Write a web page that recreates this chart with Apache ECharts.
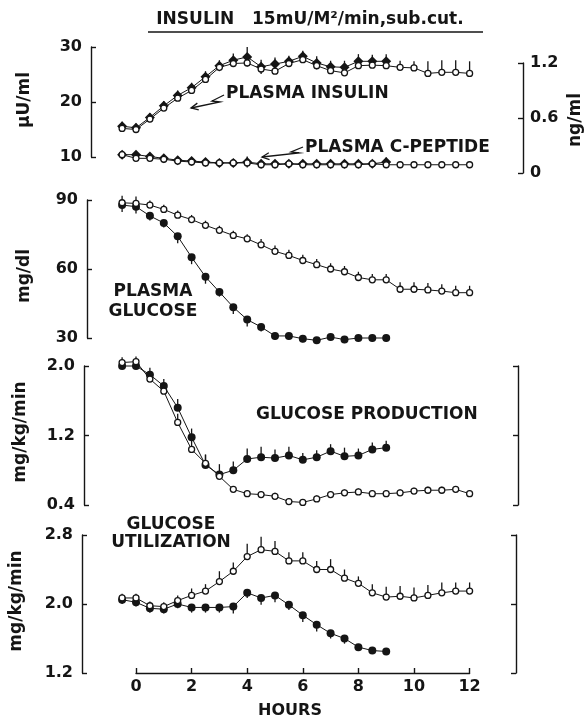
<!DOCTYPE html>
<html>
<head>
<meta charset="utf-8">
<script src="https://cdn.jsdelivr.net/npm/echarts@6/dist/echarts.min.js"></script>
<style>
  html, body { margin: 0; background: #fff; }
  #chart { width: 588px; height: 719px; }
</style>
</head>
<body>
<div id="chart"></div>
<script>
// hours after start of the sub.cut. insulin infusion
const hours = [-0.5, 0, 0.5, 1, 1.5, 2, 2.5, 3, 3.5, 4, 4.5, 5, 5.5, 6, 6.5, 7, 7.5, 8, 8.5, 9, 9.5, 10, 10.5, 11, 11.5, 12]
const hoursShort = [-0.5, 0, 0.5, 1, 1.5, 2, 2.5, 3, 3.5, 4, 4.5, 5, 5.5, 6, 6.5, 7, 7.5, 8, 8.5, 9]
const hourTicks = [0, 2, 4, 6, 8, 10, 12]

// plasma insulin, uU/ml (filled = to 9 h, open = to 12 h)
const insulinFilled = [15.6, 15.3, 17.2, 19.3, 21.2, 22.6, 24.6, 26.6, 27.6, 28.2, 26.4, 26.9, 27.4, 28.3, 27.1, 26.4, 26.3, 27.4, 27.4, 27.4]
const insulinOpen = [15.2, 15.0, 16.9, 18.9, 20.7, 22.1, 24.1, 26.3, 27.0, 27.1, 26.0, 25.6, 27.0, 27.7, 26.6, 25.7, 25.3, 26.6, 26.7, 26.6, 26.3, 26.2, 25.2, 25.4, 25.4, 25.2]
const insulinFilledErr = [0.8, 0.8, 0.8, 0.9, 0.9, 0.9, 1.0, 1.0, 1.2, 1.8, 1.3, 1.2, 1.0, 1.0, 1.2, 1.1, 1.2, 1.3, 1.2, 1.3]
const insulinOpenErr = [0.8, 0.8, 0.8, 0.8, 0.8, 0.9, 0.9, 1.0, 1.0, 1.2, 1.2, 1.2, 1.0, 1.0, 1.2, 1.2, 1.3, 1.2, 1.2, 1.2, 1.2, 1.2, 2.2, 2.2, 2.2, 2.2]

// plasma C-peptide, ng/ml
const cpepFilled = [0.20, 0.20, 0.18, 0.16, 0.14, 0.13, 0.12, 0.11, 0.11, 0.12, 0.10, 0.10, 0.10, 0.10, 0.10, 0.10, 0.10, 0.10, 0.10, 0.12]
const cpepOpen = [0.20, 0.16, 0.16, 0.15, 0.13, 0.12, 0.11, 0.11, 0.11, 0.11, 0.09, 0.09, 0.10, 0.09, 0.09, 0.09, 0.09, 0.09, 0.10, 0.09, 0.09, 0.09, 0.09, 0.09, 0.09, 0.09]
const cpepFilledErr = [0.04, 0.04, 0.04, 0.04, 0.04, 0.04, 0.04, 0.04, 0.04, 0.06, 0.04, 0.04, 0.04, 0.04, 0.04, 0.04, 0.04, 0.04, 0.04, 0.05]
const cpepOpenErr = [0.04, 0.04, 0.03, 0.03, 0.03, 0.03, 0.03, 0.03, 0.03, 0.03, 0.03, 0.03, 0.03, 0.03, 0.03, 0.03, 0.03, 0.03, 0.03, 0.03, 0.03, 0.03, 0.03, 0.03, 0.03, 0.03]

// plasma glucose, mg/dl
const glucoseFilled = [87.8, 87.1, 83.1, 80.0, 74.2, 65.1, 56.6, 50.0, 43.4, 38.0, 34.8, 30.9, 30.9, 29.7, 29.0, 30.4, 29.3, 30.0, 30.0, 30.0]
const glucoseOpen = [88.8, 88.5, 87.8, 85.9, 83.4, 81.5, 79.0, 76.8, 74.6, 73.1, 70.5, 67.7, 65.9, 63.7, 61.9, 60.0, 58.8, 56.3, 55.3, 55.3, 51.2, 51.2, 50.9, 50.4, 49.7, 49.7]
const glucoseFilledErr = [3, 3, 2, 2, 3, 3, 3, 2, 3, 3, 2, 1.5, 1.5, 1.5, 1.5, 1.5, 1.5, 1.5, 1.5, 1.5]
const glucoseOpenErr = [3, 3, 2, 2, 2, 2, 2, 2, 2, 2, 2.5, 2.5, 2.5, 2.5, 2.5, 2.5, 2.5, 2.5, 2.5, 2.5, 3, 3, 3, 3, 3, 3]

// glucose production, mg/kg/min
const productionFilled = [2.00, 2.00, 1.90, 1.77, 1.52, 1.18, 0.86, 0.75, 0.80, 0.93, 0.95, 0.94, 0.97, 0.92, 0.95, 1.02, 0.96, 0.97, 1.04, 1.06]
const productionOpen = [2.04, 2.05, 1.85, 1.71, 1.35, 1.04, 0.88, 0.73, 0.58, 0.53, 0.52, 0.50, 0.44, 0.43, 0.47, 0.52, 0.54, 0.55, 0.53, 0.53, 0.54, 0.56, 0.57, 0.57, 0.58, 0.53]
const productionFilledErr = [0.08, 0.08, 0.08, 0.08, 0.10, 0.10, 0.12, 0.12, 0.10, 0.12, 0.12, 0.10, 0.10, 0.08, 0.08, 0.08, 0.10, 0.08, 0.08, 0.08]
const productionOpenErr = [0.06, 0.06, 0.06, 0.08, 0.10, 0.12, 0.10, 0.06, 0.04, 0.04, 0.04, 0.04, 0.04, 0.04, 0.04, 0.04, 0.04, 0.04, 0.04, 0.04, 0.04, 0.04, 0.04, 0.04, 0.04, 0.04]

// glucose utilization, mg/kg/min
const utilizationFilled = [2.05, 2.02, 1.95, 1.94, 2.00, 1.96, 1.96, 1.96, 1.97, 2.13, 2.07, 2.10, 1.99, 1.87, 1.76, 1.66, 1.60, 1.50, 1.46, 1.45]
const utilizationOpen = [2.07, 2.07, 1.98, 1.97, 2.04, 2.10, 2.15, 2.26, 2.38, 2.55, 2.63, 2.61, 2.50, 2.50, 2.40, 2.40, 2.30, 2.24, 2.13, 2.08, 2.09, 2.07, 2.10, 2.13, 2.15, 2.15]
const utilizationFilledErr = [0.05, 0.05, 0.05, 0.05, 0.05, 0.06, 0.06, 0.06, 0.08, 0.06, 0.08, 0.08, 0.06, 0.08, 0.08, 0.06, 0.06, 0.04, 0.04, 0.04]
const utilizationOpenErr = [0.05, 0.05, 0.05, 0.05, 0.06, 0.08, 0.08, 0.12, 0.10, 0.15, 0.15, 0.12, 0.10, 0.10, 0.10, 0.12, 0.10, 0.08, 0.10, 0.12, 0.12, 0.12, 0.12, 0.12, 0.10, 0.10]

const insulinTicks = [10, 20, 30]
const cpepTicks = [0, 0.6, 1.2]
const glucoseTicks = [30, 60, 90]
const productionTicks = [0.4, 1.2, 2.0]
const utilizationTicks = [1.2, 2.0, 2.8]

// pixel of hour 0 and px per hour, so every panel shares one time scale
const X0 = 136
const PXH = 27.8
const INK = '#151515'
const FONT = '"DejaVu Sans", Verdana, sans-serif'

function grid(left, right, top, bottom) {
  return { left: left, width: right - left, top: top, height: bottom - top, outerBoundsMode: 'none' }
}
function xAx(gi, left, right) {
  return { type: 'value', gridIndex: gi, min: (left - X0) / PXH, max: (right - X0) / PXH, show: false }
}
function yAx(gi, ticks, opts) {
  opts = opts || {}
  return {
    type: 'value', gridIndex: gi, position: opts.position || 'left',
    min: ticks[0], max: ticks[ticks.length - 1],
    splitLine: { show: false },
    axisLine: { show: true, onZero: false, lineStyle: { color: INK, width: 1.4 } },
    axisTick: { show: true, inside: true, length: 5, customValues: ticks, lineStyle: { color: INK, width: 1.4 } },
    axisLabel: {
      show: opts.labels !== false, customValues: ticks, margin: opts.margin || 9,
      color: INK, fontFamily: FONT, fontSize: 16, fontWeight: 'bold',
      formatter: opts.fmt || (v => String(v))
    }
  }
}
const dec1 = v => (v === 0 ? '0' : v.toFixed(1))

function line(xi, yi, hrs, vals, filled, symbol) {
  return {
    type: 'line', xAxisIndex: xi, yAxisIndex: yi, z: filled ? 3 : 4, clip: false,
    data: hrs.map((h, i) => [h, vals[i]]),
    symbol: symbol || 'circle', symbolSize: filled ? (symbol ? 10 : 8) : 6,
    lineStyle: { color: INK, width: 1 },
    itemStyle: filled ? { color: INK } : { color: '#fff', borderColor: INK, borderWidth: 1.3 },
    emphasis: { disabled: true }, animation: false
  }
}
// dir: 1 up, -1 down, 0 both
function errBars(xi, yi, hrs, vals, err, dir) {
  return {
    type: 'custom', xAxisIndex: xi, yAxisIndex: yi, z: 2, silent: true, clip: false,
    data: hrs.map((h, i) => [h, vals[i], err[i]]),
    encode: { x: 0, y: 1 },
    renderItem: function (params, api) {
      const x = api.value(0), v = api.value(1), e = api.value(2)
      const lo = dir <= 0 ? v - e : v
      const hi = dir >= 0 ? v + e : v
      const a = api.coord([x, lo]), b = api.coord([x, hi])
      return { type: 'line', shape: { x1: a[0], y1: a[1], x2: b[0], y2: b[1] }, style: { stroke: INK, lineWidth: 1.3 } }
    },
    animation: false
  }
}

function txt(x, y, s, opts) {
  opts = opts || {}
  return {
    type: 'text', x: x, y: y, rotation: opts.rot || 0,
    style: {
      text: s, fill: INK, font: 'bold ' + (opts.size || 17) + 'px ' + FONT,
      align: opts.align || 'left', verticalAlign: 'middle'
    }
  }
}
// zigzag pointer ending in an open arrow head
function pointer(pts) {
  const n = pts.length, t = pts[n - 1], p = pts[n - 2]
  const dx = p[0] - t[0], dy = p[1] - t[1], d = Math.hypot(dx, dy)
  const ux = dx / d, uy = dy / d, a = 0.45, L = 8
  const h1 = [t[0] + L * (ux * Math.cos(a) - uy * Math.sin(a)), t[1] + L * (ux * Math.sin(a) + uy * Math.cos(a))]
  const h2 = [t[0] + L * (ux * Math.cos(-a) - uy * Math.sin(-a)), t[1] + L * (ux * Math.sin(-a) + uy * Math.cos(-a))]
  return [
    { type: 'polyline', shape: { points: pts }, style: { stroke: INK, lineWidth: 1.3, fill: null } },
    { type: 'polyline', shape: { points: [h1, t, h2] }, style: { stroke: INK, lineWidth: 1.3, fill: null } }
  ]
}

const chart = echarts.init(document.getElementById('chart'), null, { renderer: 'canvas' })

const option = {
  backgroundColor: '#fff',
  animation: false,
  grid: [
    grid(91, 523, 47, 157),   // insulin
    grid(91, 523, 63, 173),   // C-peptide (right scale)
    grid(87, 520, 200, 338),  // glucose
    grid(84, 518, 366, 505),  // production
    grid(82, 516, 535, 673),  // utilization
    grid(X0, X0 + 12 * PXH, 668, 673) // hours axis
  ],
  xAxis: [
    xAx(0, 91, 523), xAx(1, 91, 523), xAx(2, 87, 520), xAx(3, 84, 518), xAx(4, 82, 516),
    {
      type: 'value', gridIndex: 5, min: 0, max: 12, interval: 2, position: 'bottom',
      splitLine: { show: false },
      axisLine: { onZero: false, lineStyle: { color: INK, width: 1.4 } },
      axisTick: { inside: true, length: 5, lineStyle: { color: INK, width: 1.4 } },
      axisLabel: { customValues: hourTicks, margin: 6, color: INK, fontFamily: FONT, fontSize: 16, fontWeight: 'bold' }
    }
  ],
  yAxis: [
    yAx(0, insulinTicks),
    yAx(1, cpepTicks, { position: 'right', margin: 7, fmt: dec1 }),
    yAx(2, glucoseTicks),
    yAx(3, productionTicks, { fmt: dec1 }),
    yAx(3, productionTicks, { position: 'right', labels: false }),
    yAx(4, utilizationTicks, { fmt: dec1 }),
    yAx(4, utilizationTicks, { position: 'right', labels: false }),
    { type: 'value', gridIndex: 5, show: false }
  ],
  series: [
    errBars(0, 0, hoursShort, insulinFilled, insulinFilledErr, 0),
    errBars(0, 0, hours, insulinOpen, insulinOpenErr, 1),
    line(0, 0, hoursShort, insulinFilled, true, 'diamond'),
    line(0, 0, hours, insulinOpen, false),

    errBars(1, 1, hoursShort, cpepFilled, cpepFilledErr, 0),
    errBars(1, 1, hours, cpepOpen, cpepOpenErr, 1),
    line(1, 1, hoursShort, cpepFilled, true, 'diamond'),
    line(1, 1, hours, cpepOpen, false),

    errBars(2, 2, hoursShort, glucoseFilled, glucoseFilledErr, -1),
    errBars(2, 2, hours, glucoseOpen, glucoseOpenErr, 1),
    line(2, 2, hoursShort, glucoseFilled, true),
    line(2, 2, hours, glucoseOpen, false),

    errBars(3, 3, hoursShort, productionFilled, productionFilledErr, 1),
    errBars(3, 3, hours, productionOpen, productionOpenErr, 1),
    line(3, 3, hoursShort, productionFilled, true),
    line(3, 3, hours, productionOpen, false),

    errBars(4, 5, hoursShort, utilizationFilled, utilizationFilledErr, -1),
    errBars(4, 5, hours, utilizationOpen, utilizationOpenErr, 1),
    line(4, 5, hoursShort, utilizationFilled, true),
    line(4, 5, hours, utilizationOpen, false)
  ],
  graphic: [
    txt(310, 20, 'INSULIN   15mU/M\u00b2/min,sub.cut.', { align: 'center', size: 17 }),
    { type: 'line', shape: { x1: 148, y1: 32, x2: 483, y2: 32 }, style: { stroke: INK, lineWidth: 1.6 } },

    txt(25, 100, '\u03bcU/ml', { align: 'center', rot: Math.PI / 2 }),
    txt(576, 120, 'ng/ml', { align: 'center', rot: Math.PI / 2 }),
    txt(25, 276, 'mg/dl', { align: 'center', rot: Math.PI / 2 }),
    txt(21, 432, 'mg/kg/min', { align: 'center', rot: Math.PI / 2 }),
    txt(17, 601, 'mg/kg/min', { align: 'center', rot: Math.PI / 2 }),
    txt(290, 711, 'HOURS', { align: 'center', size: 16 }),

    txt(226, 94, 'PLASMA INSULIN'),
    txt(305, 148, 'PLASMA C-PEPTIDE'),
    txt(153, 292, 'PLASMA', { align: 'center' }),
    txt(153, 312, 'GLUCOSE', { align: 'center' }),
    txt(256, 415, 'GLUCOSE PRODUCTION'),
    txt(171, 525, 'GLUCOSE', { align: 'center' }),
    txt(171, 543, 'UTILIZATION', { align: 'center' })
  ]
    .concat(pointer([[224, 95], [212, 101], [220, 102], [191, 108]]))
    .concat(pointer([[303, 147], [291, 152], [299, 153], [262, 157]]))
}

chart.setOption(option)
window.addEventListener('resize', () => chart.resize())
</script>
</body>
</html>
